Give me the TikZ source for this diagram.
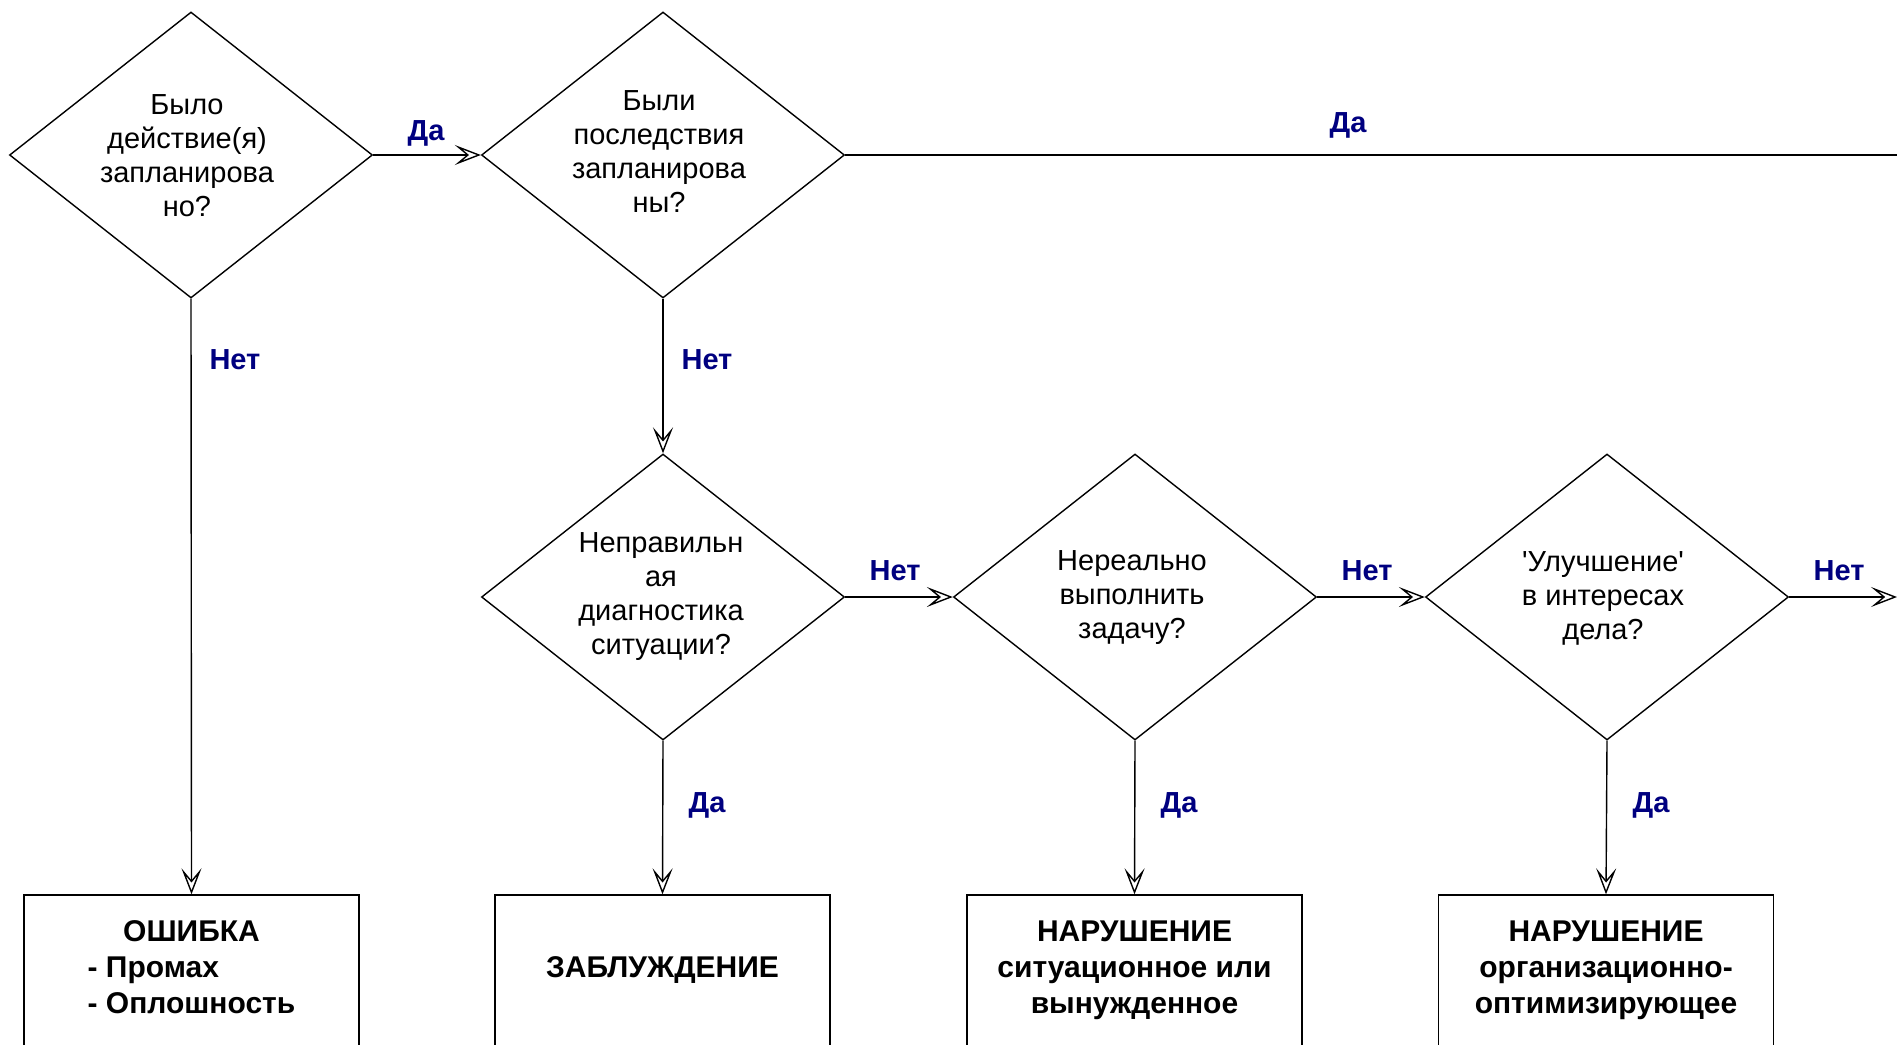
\documentclass[tikz,border=0pt]{standalone}
\usepackage{fontspec}
\setmainfont{Liberation Sans}
% plain family without TeX ligatures, so straight quotes stay straight
\newfontfamily\qfont{Liberation Sans}
\usetikzlibrary{shapes.geometric, arrows.meta}
\definecolor{lblblue}{HTML}{000080}
\begin{document}
\begin{tikzpicture}[x=1pt, y=-1pt,
  line width=1.4pt,
  decision/.style={draw, shape=diamond, minimum width=363pt, minimum height=286pt, inner sep=0pt},
  qtext/.style={align=center, font=\qfont\fontsize{29}{34}\selectfont},
  outcome/.style={draw, minimum width=335pt, minimum height=151pt, inner sep=0pt,
    font=\bfseries\fontsize{30}{36}\selectfont, align=center},
  lbl/.style={font=\bfseries\fontsize{29}{34}\selectfont, text=lblblue, inner sep=0pt},
  flow/.style={-{Stealth[open, length=26pt, width=20pt, inset=12pt]}},
]
\useasboundingbox (0,0) rectangle (1897,1044);
\fill[white] (0,0) rectangle (1897,1044);
\clip (0,0) rectangle (1897,1044);

% decisions
\node[decision] (d1) at (191,155) {};
\node[decision] (d2) at (663,155) {};
\node[decision] (d3) at (663,597) {};
\node[decision] (d4) at (1135,597) {};
\node[decision] (d5) at (1607,597) {};

\node[qtext] (d1t) at (187,156) {Было\\действие(я)\\запланирова\\но?};
\node[qtext] (d2t) at (659,152) {Были\\последствия\\запланирова\\ны?};
\node[qtext] (d3t) at (661,597) {Неправильн\\ая\\диагностика\\ситуации?};
\node[qtext] (d4t) at (1132,598) {Нереально\\выполнить\\задачу?};
\node[qtext] (d5t) at (1603,598) {'Улучшение'\\в интересах\\дела?};

% outcomes
\node[outcome] (b1) at (191.5,970.5) {\begin{tabular}{@{}l@{}}\multicolumn{1}{@{}c@{}}{ОШИБКА}\\- Промах\\- Оплошность\end{tabular}};
\node[outcome] (b2) at (662.5,970.5) {ЗАБЛУЖДЕНИЕ};
\node[outcome] (b3) at (1134.5,970.5) {НАРУШЕНИЕ\\ситуационное или\\вынужденное};
\node[outcome] (b4) at (1606,970.5) {НАРУШЕНИЕ\\организационно-\\оптимизирующее};

% free ends at the right border
\coordinate (topend) at (1897,155);
\coordinate (rightend) at (1897,597);

% connectors
\draw[flow] (d1.east) -- (d2.west);
\draw (d2.east) -- (topend);
\draw[flow] (d1.south) -- (b1.north);
\draw[flow] (d2.south) -- (d3.north);
\draw[flow] (d3.east) -- (d4.west);
\draw[flow] (d4.east) -- (d5.west);
\draw[flow] (d5.east) -- (rightend);
\draw[flow] (d3.south) -- (b2.north);
\draw[flow] (d4.south) -- (b3.north);
\draw[flow] (d5.south) -- (b4.north);

% branch labels
\node[lbl] (l1) at (426,133) {Да};
\node[lbl] (l2) at (1348,125) {Да};
\node[lbl] (l3) at (235,360) {Нет};
\node[lbl] (l4) at (707,360) {Нет};
\node[lbl] (l5) at (895,571) {Нет};
\node[lbl] (l6) at (1367,571) {Нет};
\node[lbl] (l7) at (1839,571) {Нет};
\node[lbl] (l8) at (707,805) {Да};
\node[lbl] (l9) at (1179,805) {Да};
\node[lbl] (l10) at (1651,805) {Да};
\end{tikzpicture}
\end{document}
